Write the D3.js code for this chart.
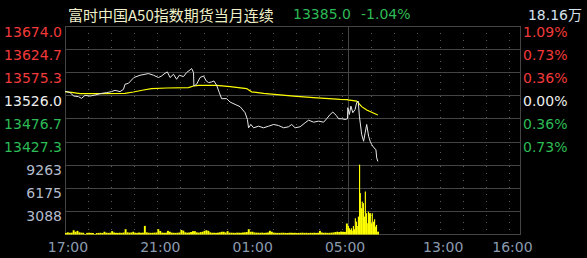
<!DOCTYPE html>
<html><head><meta charset="utf-8">
<script src="https://cdn.jsdelivr.net/npm/d3@7"></script>
<style>html,body{margin:0;padding:0;background:#000;overflow:hidden}</style>
</head><body>
<svg id="c" width="587" height="258"></svg>
<script>
// ---------------- data ----------------
const title = "富时中国A50指数期货当月连续";
const lastPrice = "13385.0";
const lastChange = "-1.04%";
const totalVolume = "18.16万";
const basePrice = 13526.0;
const priceTicks = [13674.0, 13624.7, 13575.3, 13526.0, 13476.7, 13427.3];
const pctTicks = ["1.09%", "0.73%", "0.36%", "0.00%", "0.36%", "0.73%"];
const volTicks = [9263, 6175, 3088];
const timeTicks = ["17:00", "21:00", "01:00", "05:00", "13:00", "16:00"];

const priceTimes = ["17:00","17:13","17:23","17:35","17:43","17:52","18:05","18:18","18:31","18:48",
  "19:01","19:10","19:23","19:32","19:36","19:45","19:53","19:59","20:15","20:28","20:37","20:50",
  "21:03","21:11","21:20","21:26","21:33","21:42","21:50","21:57","22:08","22:16","22:25","22:29",
  "22:34","22:35","22:42","22:51","23:00","23:07","23:13","23:21","23:27","23:34","23:41","23:47",
  "00:00","00:09","00:22","00:35","00:48","00:54","00:57","01:03","01:10","01:23","01:36","01:49",
  "02:02","02:15","02:28","02:41","02:49","02:58","03:11","03:24","03:33","03:46","03:59","04:12",
  "04:20","04:29","04:36","04:45","04:51","04:59","05:08","05:14",
  "09:00","09:04","09:08","09:13","09:19","09:23","09:27","09:30","09:36","09:41","09:45","09:49",
  "09:54","09:58","10:02","10:08","10:13","10:15","10:18"];
const prices = [13534.6,13531.8,13524.5,13523.2,13519.6,13526.0,13524.5,13526.6,13529.6,13531.8,
  13533.9,13536.7,13533.9,13538.9,13549.6,13551.7,13558.8,13564.0,13568.9,13571.0,13572.5,13568.9,
  13564.0,13567.4,13573.2,13576.0,13564.0,13571.0,13560.3,13568.9,13566.1,13574.7,13580.3,13583.3,
  13574.7,13545.9,13549.6,13564.0,13567.4,13556.7,13553.2,13554.5,13556.7,13547.5,13531.8,13518.9,
  13518.9,13511.6,13506.7,13501.8,13488.9,13474.5,13456.7,13463.8,13456.7,13460.1,13456.7,13460.1,
  13463.8,13461.6,13456.7,13458.9,13463.8,13456.7,13458.9,13467.4,13473.0,13468.7,13470.9,13468.7,
  13476.0,13485.2,13490.2,13483.1,13476.0,13476.0,13474.5,13476.0,
  13499.6,13485.2,13503.0,13488.9,13496.0,13510.3,13513.8,13481.6,13442.3,13428.0,13446.0,13463.8,
  13438.7,13428.0,13420.9,13413.8,13410.2,13392.4,13385.0];

const avgTimes = ["17:00","17:22","17:39","18:31","19:36","19:58","20:24","20:45","21:24","22:21",
  "22:34","22:47","23:34","00:09","00:52","01:05","01:36","02:54","03:46","04:55","05:14",
  "09:00","09:23","09:36","09:49","10:15","10:18"];
const avgPrices = [13533.9,13531.8,13529.6,13529.6,13530.3,13533.1,13537.4,13540.4,13541.7,13542.5,
  13545.9,13547.4,13547.4,13544.7,13540.4,13533.5,13530.3,13524.5,13521.1,13517.4,13516.8,
  13516.3,13513.8,13501.8,13494.5,13485.2,13484.2];

// night session volume, 5-minute bins starting 17:00
const nightVolumes = [150,220,160,180,500,300,420,220,180,160,0,150,170,150,140,0,130,150,160,140,
  300,180,150,170,380,200,160,150,170,150,200,640,220,180,200,300,170,150,200,160,
  180,1080,220,170,150,160,180,200,640,400,180,160,170,420,300,180,160,150,170,200,
  540,450,220,180,200,260,380,380,220,180,250,300,420,500,420,220,160,170,150,180,
  220,300,300,200,380,180,170,160,150,180,170,160,200,220,260,640,300,300,200,180,
  170,160,180,150,170,200,420,300,180,160,150,150,160,170,150,140,160,170,150,160,
  140,150,160,170,150,160,140,160,150,170,150,160,420,200,160,170,150,160,180,200,
  260,300,260,320,300,280,1400];
const dayVolTimes = ["09:00","09:03","09:05","09:08","09:10","09:13","09:16","09:18","09:21","09:23",
  "09:26","09:29","09:31","09:34","09:36","09:39","09:42","09:44","09:47","09:49","09:52","09:55",
  "09:57","10:00","10:02","10:05","10:08","10:10","10:13","10:15","10:18"];
const dayVolumes = [1074,765,537,765,443,1074,631,2107,1651,1074,2322,9263,5462,3449,4335,4120,
  2322,5677,2778,1436,2993,2778,2778,1436,2778,1651,1973,980,1208,309,309];

// ---------------- layout ----------------
const pLeft = 65, pRight = 521, pTop = 26, pBottom = 234;
const rowH = (pBottom - pTop) / 9;
const priceBottom = pTop + 6 * rowH;
const NUM = "'DejaVu Sans', 'Noto Sans CJK SC', sans-serif";
const CJK = "'Noto Sans CJK SC', sans-serif";
const RED = "#f23a3a", GREEN = "#2dbb55", GRID = "#444444";

function sessionMinute(t) {
  const [h, m] = t.split(":").map(Number);
  const mm = h * 60 + m;
  if (mm >= 1020) return mm - 1020;        // 17:00 .. 24:00
  if (mm <= 315) return mm + 420;          // 00:00 .. 05:15
  return 735 + (mm - 540);                 // 09:00 .. 16:30
}
const x = d3.scaleLinear().domain([0, 1185]).range([pLeft, pRight]);
const y = d3.scaleLinear().domain([2 * basePrice - priceTicks[0], priceTicks[0]]).range([priceBottom, pTop]);
const v = d3.scaleLinear().domain([0, volTicks[0]]).range([pBottom, priceBottom]);
const crisp = p => Math.round(p) + 0.5;

const svg = d3.select("#c");
svg.append("rect").attr("width", 587).attr("height", 258).attr("fill", "#000");

const g = svg.append("g");
// vertical dotted hour grid
const hourGrid = d3.range(18, 24).concat(d3.range(0, 6), d3.range(10, 17)).map(h => String(h).padStart(2, "0") + ":00");
g.selectAll("line.vd").data(hourGrid).join("line")
  .attr("x1", d => crisp(x(sessionMinute(d)))).attr("x2", d => crisp(x(sessionMinute(d))))
  .attr("y1", pTop).attr("y2", pBottom)
  .attr("stroke", "#5a5a5a").attr("stroke-width", 1).attr("stroke-dasharray", "1,6");
// session divider
g.append("line")
  .attr("x1", crisp(x(sessionMinute("09:00")))).attr("x2", crisp(x(sessionMinute("09:00"))))
  .attr("y1", pTop).attr("y2", pBottom).attr("stroke", GRID);
// horizontal grid
const hLines = priceTicks.slice(1).map(p => y(p)).concat([priceBottom], volTicks.slice(1).map(q => v(q)));
g.selectAll("line.h").data(hLines).join("line")
  .attr("x1", pLeft).attr("x2", pRight)
  .attr("y1", d => crisp(d)).attr("y2", d => crisp(d))
  .attr("stroke", GRID);
// border
g.append("rect").attr("x", crisp(pLeft)).attr("y", crisp(pTop))
  .attr("width", Math.round(pRight - pLeft) - 1).attr("height", Math.round(pBottom - pTop))
  .attr("fill", "none").attr("stroke", GRID);

// volume bars
const nightBins = nightVolumes.map((vol, i) => ({ m: i * 5, vol }));
const bw = x(5) - x(0);
g.selectAll("rect.nv").data(nightBins).join("rect")
  .attr("x", d => x(d.m)).attr("width", bw)
  .attr("y", d => v(d.vol)).attr("height", d => pBottom + 0.5 - v(d.vol))
  .attr("fill", "#ffff00");
g.selectAll("rect.dv").data(dayVolTimes.map((t, i) => ({ t, vol: dayVolumes[i] }))).join("rect")
  .attr("x", d => x(sessionMinute(d.t))).attr("width", 1.15)
  .attr("y", d => v(d.vol)).attr("height", d => pBottom + 0.5 - v(d.vol))
  .attr("fill", "#ffff00");

// average price line
const line = d3.line().x(d => x(sessionMinute(d[0]))).y(d => y(d[1]));
g.append("path").datum(avgTimes.map((t, i) => [t, avgPrices[i]]))
  .attr("d", line).attr("fill", "none").attr("stroke", "#ffff00").attr("stroke-width", 1.2);
// price line
g.append("path").datum(priceTimes.map((t, i) => [t, prices[i]]))
  .attr("d", line).attr("fill", "none").attr("stroke", "#e8e8e8").attr("stroke-width", 1);

// left price labels
const colorFor = p => p > basePrice ? RED : (p < basePrice ? GREEN : "#eeeeee");
svg.selectAll("text.pl").data(priceTicks).join("text")
  .attr("x", 62).attr("y", d => y(d) + 5.5)
  .attr("text-anchor", "end").attr("dominant-baseline", "central")
  .attr("font-family", NUM).attr("font-size", 14)
  .attr("fill", colorFor).text(d => d.toFixed(1));
// right percentage labels
svg.selectAll("text.pr").data(pctTicks).join("text")
  .attr("x", 523).attr("y", (d, i) => y(priceTicks[i]) + 5.5)
  .attr("text-anchor", "start").attr("dominant-baseline", "central")
  .attr("font-family", NUM).attr("font-size", 14)
  .attr("fill", (d, i) => colorFor(priceTicks[i])).text(d => d);
// volume labels
svg.selectAll("text.vl").data(volTicks).join("text")
  .attr("x", 62).attr("y", d => v(d) + 5.5)
  .attr("text-anchor", "end").attr("dominant-baseline", "central")
  .attr("font-family", NUM).attr("font-size", 14)
  .attr("fill", "#b4bccc").text(d => d);
// time labels
svg.selectAll("text.tl").data(timeTicks).join("text")
  .attr("x", d => x(sessionMinute(d)) + 3).attr("y", 246.5)
  .attr("text-anchor", "middle").attr("dominant-baseline", "central")
  .attr("font-family", NUM).attr("font-size", 14)
  .attr("fill", "#8c9bb0").text(d => d);

// header
svg.append("text").attr("x", 68).attr("y", 14).attr("dominant-baseline", "central")
  .attr("font-family", CJK).attr("font-size", 15).attr("fill", "#efefc8").text(title);
svg.append("text").attr("x", 293).attr("y", 14).attr("dominant-baseline", "central")
  .attr("font-family", NUM).attr("font-size", 14).attr("fill", GREEN).text(lastPrice);
svg.append("text").attr("x", 361).attr("y", 14).attr("dominant-baseline", "central")
  .attr("font-family", NUM).attr("font-size", 14).attr("fill", GREEN).text(lastChange);
svg.append("text").attr("x", 582).attr("y", 15).attr("text-anchor", "end").attr("dominant-baseline", "central")
  .attr("font-family", NUM).attr("font-size", 14).attr("fill", "#d6e2ee").text(totalVolume);
</script>
</body></html>
